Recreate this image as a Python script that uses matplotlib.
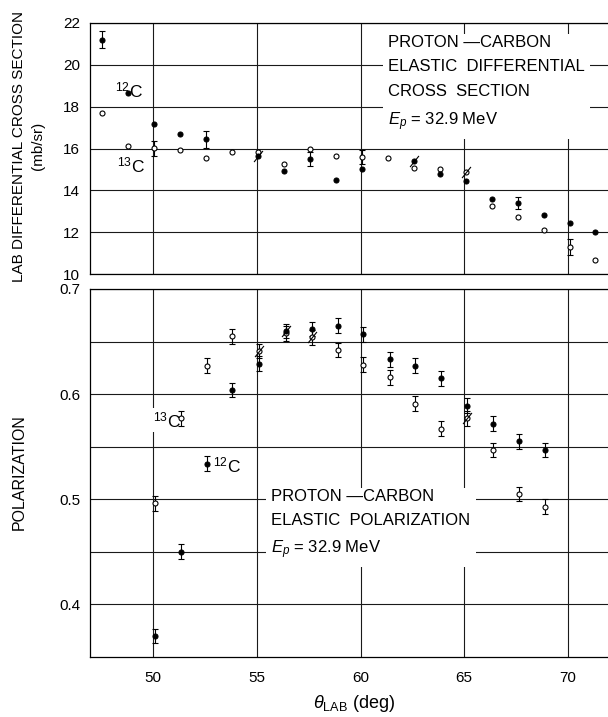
import numpy as np
import matplotlib
matplotlib.use("Agg")
import matplotlib.pyplot as plt
from matplotlib.path import Path

plt.rcParams['font.family'] = ['Liberation Sans', 'DejaVu Sans']
plt.rcParams['mathtext.fontset'] = 'custom'
plt.rcParams['mathtext.rm'] = 'Liberation Sans'
plt.rcParams['mathtext.it'] = 'Liberation Sans:italic'
plt.rcParams['mathtext.bf'] = 'Liberation Sans:bold'

# ---------------- data: differential cross section (mb/sr) ----------------
cs12_theta = [47.54, 48.80, 50.05, 51.30, 52.55, 55.07, 56.30, 57.58, 58.83, 60.08,
              62.57, 63.85, 65.07, 66.34, 67.60, 68.83, 70.08, 71.30]
cs12 = [21.2, 18.64, 17.16, 16.68, 16.44, 15.66, 14.94, 15.50, 14.48, 15.00,
        15.40, 14.80, 14.46, 13.57, 13.41, 12.80, 12.45, 12.00]
cs12_err = [0.40, 0, 0, 0, 0.41, 0, 0, 0.32, 0, 0,
            0, 0, 0, 0, 0.28, 0, 0, 0]
cs12_slash = [0, 0, 0, 0, 0, 1, 0, 0, 0, 0,
              1, 0, 0, 0, 0, 0, 0, 0]

cs13_theta = [47.54, 48.80, 50.05, 51.30, 52.55, 53.82, 55.07, 56.30, 57.58, 58.83,
              60.08, 61.34, 62.57, 63.85, 65.07, 66.34, 67.60, 68.83, 70.08, 71.30]
cs13 = [17.68, 16.13, 16.01, 15.95, 15.56, 15.85, 15.83, 15.27, 15.96, 15.66,
        15.60, 15.53, 15.08, 15.03, 14.86, 13.25, 12.74, 12.10, 11.28, 10.67]
cs13_err = [0, 0, 0.36, 0, 0, 0, 0, 0, 0, 0,
            0.33, 0, 0, 0, 0, 0, 0, 0, 0.37, 0]
cs13_slash = [0, 0, 0, 0, 0, 0, 0, 0, 0, 0,
              0, 0, 0, 0, 1, 0, 0, 0, 0, 0]

# ---------------- data: polarization ----------------
pol_theta = [50.08, 51.35, 52.59, 53.82, 55.10, 56.40, 57.65, 58.90,
             60.13, 61.40, 62.64, 63.90, 65.15, 66.40, 67.65, 68.90]
pol12 = [0.370, 0.450, 0.534, 0.604, 0.629, 0.660, 0.662, 0.665,
         0.657, 0.633, 0.627, 0.615, 0.589, 0.572, 0.555, 0.547]
pol12_err = [0.007] * 16
pol12_slash = [0, 0, 0, 0, 0, 1, 0, 0, 0, 0, 0, 0, 0, 0, 0, 0]
pol13 = [0.496, 0.577, 0.627, 0.655, 0.641, 0.658, 0.654, 0.642,
         0.628, 0.616, 0.591, 0.567, 0.577, 0.547, 0.505, 0.493]
pol13_err = [0.007] * 16
pol13_slash = [0, 0, 0, 0, 1, 0, 1, 0, 0, 0, 0, 0, 1, 0, 0, 0]

x_ticks = [50, 55, 60, 65, 70]
cs_ticks = [10, 12, 14, 16, 18, 20, 22]
pol_ticks = [0.4, 0.5, 0.6, 0.7]
pol_minor = [0.45, 0.55, 0.65]

# ---------------- figure ----------------
W, H = 608, 717
fig = plt.figure(figsize=(W / 100, H / 100), dpi=100)
ax1 = fig.add_axes([90 / W, 1 - 274 / H, 518 / W, 251 / H])
ax2 = fig.add_axes([90 / W, 1 - 657 / H, 518 / W, 368 / H])

slash_marker = Path([(-0.8, -1), (0.8, 1)], [Path.MOVETO, Path.LINETO])
GRID = '#1a1a1a'


def draw_series(ax, x, y, err, slash, filled):
    x = np.asarray(x); y = np.asarray(y)
    err = np.asarray(err); slash = np.asarray(slash, dtype=bool)
    m = err > 0
    if m.any():
        ax.errorbar(x[m], y[m], yerr=err[m], fmt='none', ecolor='k',
                    elinewidth=0.8, capsize=2, capthick=0.8, zorder=4)
    ax.plot(x, y, ls='none', marker='o', ms=3.6,
            mfc='k' if filled else 'white', mec='k', mew=0.8, zorder=5)
    if slash.any():
        ax.plot(x[slash], y[slash], ls='none', marker=slash_marker, ms=8,
                mec='k', mew=0.8, zorder=6)


for ax in (ax1, ax2):
    ax.set_xlim(46.96, 71.93)
    ax.set_xticks(x_ticks)
    ax.set_axisbelow(True)
    ax.grid(True, which='both', color=GRID, lw=0.8)
    ax.tick_params(which='both', length=0, labelsize=11, pad=7)
    ax.spines['right'].set_visible(False)
    for s in ('left', 'top', 'bottom'):
        ax.spines[s].set_linewidth(0.9)

# top panel
ax1.set_ylim(10, 22)
ax1.set_yticks(cs_ticks)
ax1.tick_params(axis='x', labelbottom=False)
draw_series(ax1, cs13_theta, cs13, cs13_err, cs13_slash, False)
draw_series(ax1, cs12_theta, cs12, cs12_err, cs12_slash, True)

box = dict(facecolor='white', edgecolor='none', pad=4)
ax1.text(61.33, 21.45,
         'PROTON \u2014CARBON\nELASTIC  DIFFERENTIAL\nCROSS  SECTION\n$E_p$ = 32.9 MeV',
         fontsize=12, ha='left', va='top', linespacing=1.8, zorder=3, bbox=box)
lab = dict(facecolor='white', edgecolor='none', pad=1.5)
ax1.text(48.16, 18.46, r'$^{12}$C', fontsize=12.5, ha='left', va='baseline', bbox=lab, zorder=3)
ax1.text(48.26, 14.88, r'$^{13}$C', fontsize=12.5, ha='left', va='baseline', bbox=lab, zorder=3)

# bottom panel
ax2.set_ylim(0.35, 0.7)
ax2.set_yticks(pol_ticks)
ax2.set_yticks(pol_minor, minor=True)
ax2.set_yticklabels(['0.4', '0.5', '0.6', '0.7'])
ax2.tick_params(axis='x', pad=10)
draw_series(ax2, pol_theta, pol13, pol13_err, pol13_slash, False)
draw_series(ax2, pol_theta, pol12, pol12_err, pol12_slash, True)
ax2.text(55.69, 0.5095,
         'PROTON \u2014CARBON\nELASTIC  POLARIZATION\n$E_p$ = 32.9 MeV',
         fontsize=12, ha='left', va='top', linespacing=1.72, zorder=3, bbox=box)
ax2.text(49.98, 0.5686, r'$^{13}$C', fontsize=12.5, ha='left', va='baseline', bbox=lab, zorder=3)
ax2.text(52.91, 0.526, r'$^{12}$C', fontsize=12.5, ha='left', va='baseline', bbox=lab, zorder=3)

# axis labels
fig.text(19.5 / W, 1 - 146 / H, 'LAB DIFFERENTIAL CROSS SECTION', rotation=90,
         ha='center', va='center', fontsize=11)
fig.text(37.5 / W, 1 - 146 / H, '(mb/sr)', rotation=90, ha='center', va='center', fontsize=11)
fig.text(19 / W, 1 - 472 / H, 'POLARIZATION', rotation=90, ha='center', va='center', fontsize=11.5)
fig.text(313 / W, 1 - 708 / H, r'$\theta_{\mathrm{LAB}}$ (deg)', ha='left', va='baseline', fontsize=13)

fig.savefig('out.png', dpi=100)
